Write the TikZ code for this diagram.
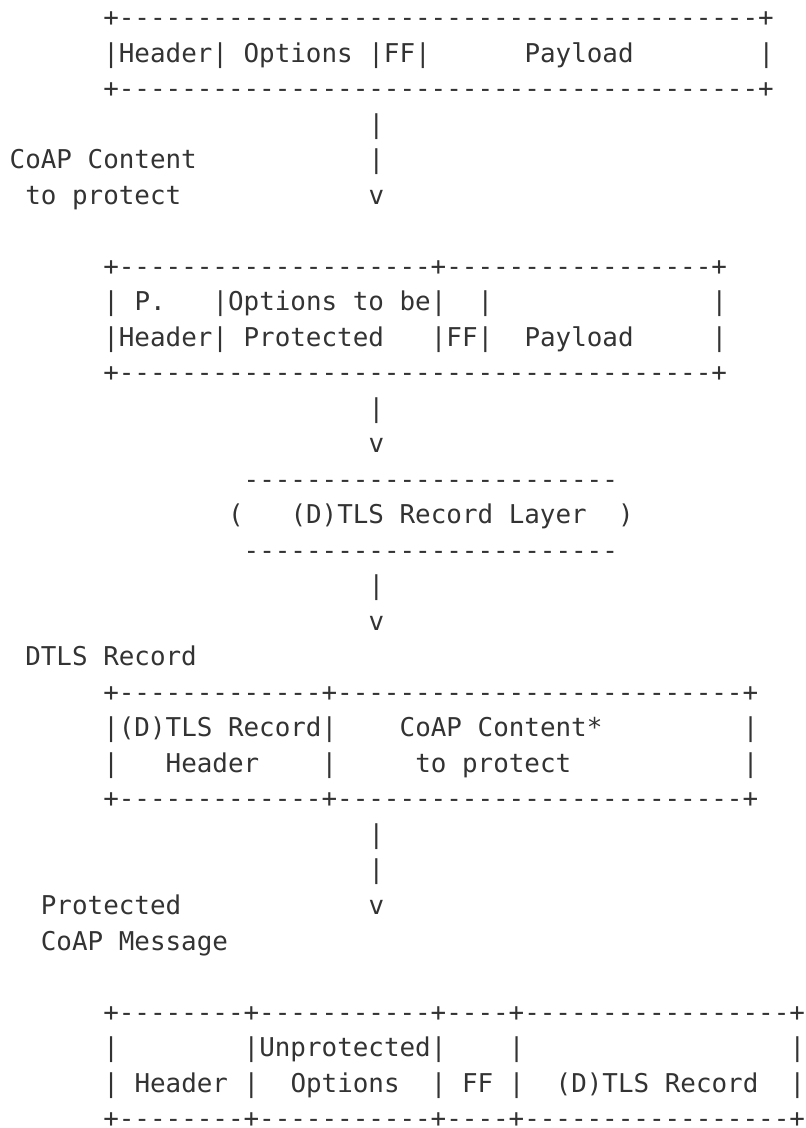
\documentclass[tikz,border=0pt]{standalone}
\usepackage{fontspec}
\setmonofont{DejaVu Sans Mono}
\definecolor{ink}{HTML}{333333}
\ExplSyntaxOn
\cs_new:Npn \myrep #1#2 { \prg_replicate:nn {#1} {#2} }
\ExplSyntaxOff
\tikzset{asc/.style={anchor=base west, inner sep=0pt, outer sep=0pt, text=ink,
  font=\ttfamily\fontsize{12.95}{15}\selectfont}}
% name, row, column, text
\newcommand\At[4]{\node[asc] (#1) at ({9.7+15.6*#3},{26.5+35.52*(#2-1)}) {#4};}
\begin{document}
\begin{tikzpicture}[x=0.5pt,y=-0.5pt]
\useasboundingbox (0,0) rectangle (806,1128);
% first box
\At{aTop}{1}{6}{+\myrep{41}{-}+}
\At{aLeft}{2}{6}{|Header| Options |FF|}
\At{aPay}{2}{33}{Payload}
\At{aRight}{2}{48}{|}
\At{aBot}{3}{6}{+\myrep{41}{-}+}
\At{arA}{4}{23}{|}
\At{lblA1}{5}{0}{CoAP Content}
\At{arB}{5}{23}{|}
\At{lblA2}{6}{1}{to protect}
\At{arC}{6}{23}{v}
% second box
\At{bTop}{8}{6}{+\myrep{20}{-}+\myrep{17}{-}+}
\At{bL1}{9}{6}{|}
\At{bP}{9}{8}{P.}
\At{bOpt}{9}{13}{|Options to be|}
\At{bFF1}{9}{30}{|}
\At{bR1}{9}{45}{|}
\At{bHdr}{10}{6}{|Header| Protected}
\At{bFF2}{10}{27}{|FF|}
\At{bPay}{10}{33}{Payload}
\At{bR2}{10}{45}{|}
\At{bBot}{11}{6}{+\myrep{38}{-}+}
\At{arD}{12}{23}{|}
\At{arE}{13}{23}{v}
% record layer
\At{cTop}{14}{15}{\myrep{24}{-}}
\At{cLp}{15}{14}{(}
\At{cTxt}{15}{18}{(D)TLS Record Layer}
\At{cRp}{15}{39}{)}
\At{cBot}{16}{15}{\myrep{24}{-}}
\At{arF}{17}{23}{|}
\At{arG}{18}{23}{v}
% third box
\At{lblD}{19}{1}{DTLS Record}
\At{dTop}{20}{6}{+\myrep{13}{-}+\myrep{26}{-}+}
\At{dRec}{21}{6}{|(D)TLS Record|}
\At{dCo}{21}{25}{CoAP Content*}
\At{dR1}{21}{47}{|}
\At{dL2}{22}{6}{|}
\At{dHdr}{22}{10}{Header}
\At{dM2}{22}{20}{|}
\At{dTo}{22}{26}{to protect}
\At{dR2}{22}{47}{|}
\At{dBot}{23}{6}{+\myrep{13}{-}+\myrep{26}{-}+}
\At{arH}{24}{23}{|}
\At{arI}{25}{23}{|}
\At{lblE1}{26}{2}{Protected}
\At{arJ}{26}{23}{v}
\At{lblE2}{27}{2}{CoAP Message}
% fourth box
\At{eTop}{29}{6}{+\myrep{8}{-}+\myrep{11}{-}+\myrep{4}{-}+\myrep{17}{-}+}
\At{eL1}{30}{6}{|}
\At{eUnp}{30}{15}{|Unprotected|}
\At{eF1}{30}{32}{|}
\At{eR1}{30}{50}{|}
\At{eL2}{31}{6}{|}
\At{eHdr}{31}{8}{Header}
\At{eM2}{31}{15}{|}
\At{eOpt}{31}{18}{Options}
\At{eN2}{31}{27}{|}
\At{eFF}{31}{29}{FF}
\At{eF2}{31}{32}{|}
\At{eRec}{31}{35}{(D)TLS Record}
\At{eR2}{31}{50}{|}
\At{eBot}{32}{6}{+\myrep{8}{-}+\myrep{11}{-}+\myrep{4}{-}+\myrep{17}{-}+}
\end{tikzpicture}
\end{document}
